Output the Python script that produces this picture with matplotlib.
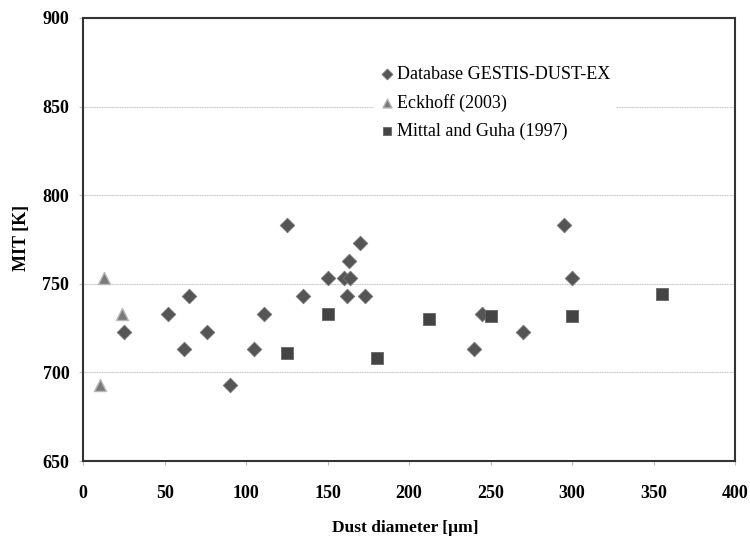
import matplotlib.pyplot as plt

plt.rcParams['font.family'] = ['Liberation Serif', 'DejaVu Serif']

# Database GESTIS-DUST-EX
gestis_d = [25, 52, 62, 65, 76, 90, 105, 111, 125, 135, 150, 160, 162, 163,
            164, 170, 173, 240, 245, 270, 295, 300]
gestis_mit = [723, 733, 713, 743, 723, 693, 713, 733, 783, 743, 753, 753, 743,
              763, 753, 773, 743, 713, 733, 723, 783, 753]

# Eckhoff (2003)
eck_d = [10, 13, 24]
eck_mit = [693, 753, 733]

# Mittal and Guha (1997)
mittal_d = [125, 150, 180, 212, 250, 300, 355]
mittal_mit = [711, 733, 708, 730, 732, 732, 744]

fig = plt.figure(figsize=(7.5, 5.37), dpi=100)
ax = fig.add_axes([0.111, 0.1415, 0.869, 0.825])

ax.scatter(gestis_d, gestis_mit, marker='D', s=55, color='#555555',
           edgecolors='#777777', linewidths=0.6, label='Database GESTIS-DUST-EX', zorder=3)
ax.scatter(eck_d, eck_mit, marker='^', s=75, color='#7a7a7a',
           edgecolors='#b8b8b8', linewidths=1.0, label='Eckhoff (2003)', zorder=4)
ax.scatter(mittal_d, mittal_mit, marker='s', s=65, color='#444444',
           edgecolors='#666666', linewidths=0.6, label='Mittal and Guha (1997)', zorder=3)

ax.set_xlim(0, 400)
ax.set_ylim(650, 900)
ax.set_xticks(range(0, 401, 50))
ax.set_yticks(range(650, 901, 50))
ax.yaxis.grid(True, color='#c8c8c8', linewidth=0.8, linestyle=(0, (1, 0.5)))
ax.set_axisbelow(True)

for sp in ax.spines.values():
    sp.set_color('#333333')
    sp.set_linewidth(1.5)

ax.tick_params(axis='both', direction='out', length=3, color='#bbbbbb',
               labelsize=13)
ax.tick_params(axis='x', pad=14)
ax.tick_params(axis='y', pad=7)
for lbl in ax.get_xticklabels() + ax.get_yticklabels():
    lbl.set_fontweight('bold')

ax.set_xlabel('Dust diameter [µm]', fontsize=12.5, fontweight='bold')
ax.set_ylabel('MIT [K]', fontsize=13, fontweight='bold')
ax.xaxis.set_label_coords(0.494, -0.151)
ax.xaxis.label.set_va('center')
ax.yaxis.set_label_coords(-0.095, 0.504)
ax.yaxis.label.set_va('center')

leg = ax.legend(loc='upper left', bbox_to_anchor=(0.43, 0.925), frameon=True,
                fontsize=13, handletextpad=0.05, handlelength=1.0,
                borderpad=0.3, labelspacing=0.62, markerscale=0.75)
leg.get_frame().set_edgecolor('none')
leg.get_frame().set_facecolor('white')
leg.get_frame().set_alpha(1)

fig.savefig('out.png', dpi=100)
